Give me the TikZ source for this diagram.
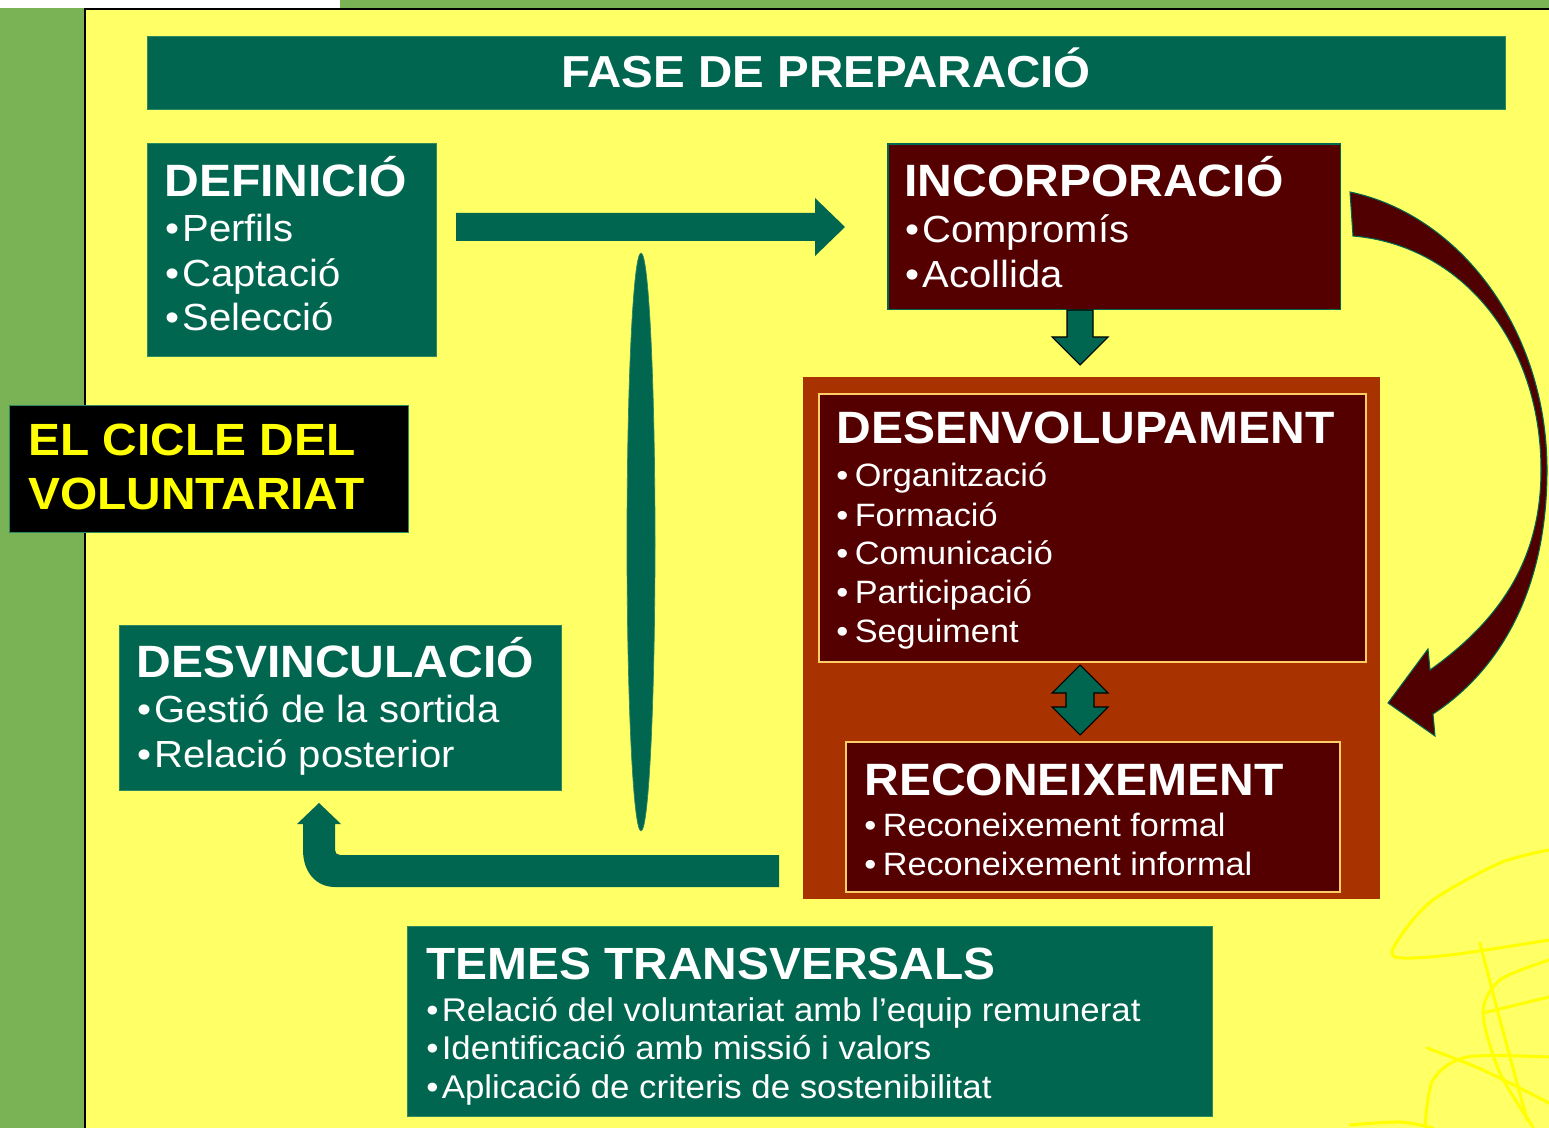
\documentclass[tikz,border=0pt]{standalone}
\usepackage{fontspec}
\setmainfont{Liberation Sans}[FakeStretch=1.06]
\usetikzlibrary{positioning}

\definecolor{vgreen}{RGB}{0,102,80}
\definecolor{vgreenedge}{RGB}{45,135,95}
\definecolor{vred}{RGB}{85,0,0}
\definecolor{vrust}{RGB}{168,51,0}
\definecolor{vorange}{RGB}{255,204,102}
\definecolor{vyellow}{RGB}{255,255,102}
\definecolor{vlemon}{RGB}{255,255,0}
\definecolor{vgrass}{RGB}{122,178,86}
\definecolor{varrow}{RGB}{80,0,0}

\tikzset{
  panel/.style={anchor=north west, inner sep=0, outer sep=0},
  greenbox/.style={panel, fill=vgreen, draw=vgreenedge, line width=0.5pt},
  redbox/.style={panel, fill=vred, draw=vorange, line width=0.9pt},
  boxtitle/.style={anchor=base west, inner sep=0, text=white, font=\bfseries\fontsize{#1}{#1}\selectfont},
  bulletline/.style={anchor=base west, inner sep=0, text=white, font=\fontsize{#1}{#1}\selectfont},
  blockarrow/.style={fill=vgreen, draw=black, line width=0.6pt},
  scribble/.style={draw=vlemon, line width=0.06cm, line cap=round},
}

\begin{document}
\begin{tikzpicture}[x=0.02cm, y=-0.02cm]
    \useasboundingbox (0,0) rectangle (1549,1128);
    % background
    \fill[vgrass] (0,0) rectangle (1549,1128);
    \fill[white] (0,0) rectangle (340,8);
    \fill[vyellow] (85,9) rectangle (1549,1128);
    \draw[black, line width=1.2pt] (85,1128) -- (85,9) -- (1549,9);

    % scribbles in the corner
    \draw[scribble] plot[smooth] coordinates {(1549,850) (1500,863) (1433,900) (1400,937) (1395,957) (1450,955) (1549,940)};
    \draw[scribble] plot[smooth] coordinates {(1480,943) (1500,1020) (1527,1120)};
    \draw[scribble] plot[smooth] coordinates {(1549,960) (1500,980) (1483,1013) (1500,1073) (1533,1127)};
    \draw[scribble] plot[smooth] coordinates {(1427,1048) (1483,1070) (1549,1103)};
    \draw[scribble] plot[smooth] coordinates {(1549,1057) (1467,1057) (1433,1080) (1425,1128)};
    \draw[scribble] plot[smooth] coordinates {(1350,1125) (1400,1122) (1433,1128)};
    \draw[scribble] plot[smooth] coordinates {(1483,1013) (1549,997)};

    % banner
    \node[greenbox, minimum width=27.18cm, minimum height=1.46cm] (fase) at (147,36) {};
    \node[anchor=base, inner sep=0, text=white, font=\bfseries\fontsize{25.5}{25.5}\selectfont] (fasetext) at (826,88) {FASE DE PREPARACIÓ};

    % definicio
    \node[greenbox, minimum width=5.78cm, minimum height=4.26cm] (def) at (147,143) {};
    \node[boxtitle=25.8] (deftitle) at (164,197) {DEFINICIÓ};
    \node[bulletline=21.5] (def1) at (165,242) {•\hspace{0.08em}Perfils};
    \node[bulletline=21.5] (def2) at (165,287) {•\hspace{0.08em}Captació};
    \node[bulletline=21.5] (def3) at (165,331) {•\hspace{0.08em}Selecció};

    % incorporacio
    \node[panel, fill=vred, draw=vgreen, line width=0.6pt, minimum width=9.06cm, minimum height=3.32cm] (inc) at (888,144) {};
    \node[boxtitle=25.8] (inctitle) at (904,197) {INCORPORACIÓ};
    \node[bulletline=21.5] (inc1) at (905,243) {•\hspace{0.08em}Compromís};
    \node[bulletline=21.5] (inc2) at (905,288) {•\hspace{0.08em}Acollida};

    % desenvolupament and reconeixement
    \node[panel, fill=vrust, minimum width=11.54cm, minimum height=10.44cm] (devpanel) at (803,377) {};
    \node[redbox, minimum width=10.94cm, minimum height=5.36cm] (dev) at (819,394) {};
    \node[boxtitle=25.8] (devtitle) at (836,444) {DESENVOLUPAMENT};
    \node[bulletline=18.4] (dev1) at (836,487) {•\hspace{0.2em}Organització};
    \node[bulletline=18.4] (dev2) at (836,526) {•\hspace{0.2em}Formació};
    \node[bulletline=18.4] (dev3) at (836,564) {•\hspace{0.2em}Comunicació};
    \node[bulletline=18.4] (dev4) at (836,603) {•\hspace{0.2em}Participació};
    \node[bulletline=18.4] (dev5) at (836,642) {•\hspace{0.2em}Seguiment};
    \node[redbox, minimum width=9.88cm, minimum height=3.0cm] (rec) at (846,742) {};
    \node[boxtitle=25.8] (rectitle) at (864,795) {RECONEIXEMENT};
    \node[bulletline=18.4] (rec1) at (864,836) {•\hspace{0.2em}Reconeixement formal};
    \node[bulletline=18.4] (rec2) at (864,875) {•\hspace{0.2em}Reconeixement informal};

    % title of the cycle
    \node[panel, fill=black, draw=vgreenedge, line width=0.4pt, minimum width=7.98cm, minimum height=2.54cm] (cicle) at (9,405) {};
    \node[anchor=base west, inner sep=0, text=vlemon, font=\bfseries\fontsize{25.7}{25.7}\selectfont] (cicle1) at (28,456) {EL CICLE DEL};
    \node[anchor=base west, inner sep=0, text=vlemon, font=\bfseries\fontsize{25.7}{25.7}\selectfont] (cicle2) at (28,510) {VOLUNTARIAT};

    % desvinculacio
    \node[greenbox, minimum width=8.86cm, minimum height=3.3cm] (desv) at (119,625) {};
    \node[boxtitle=25.8] (desvtitle) at (136,677) {DESVINCULACIÓ};
    \node[bulletline=21.5] (desv1) at (137,722) {•\hspace{0.08em}Gestió de la sortida};
    \node[bulletline=21.5] (desv2) at (137,767) {•\hspace{0.08em}Relació posterior};

    % temes transversals
    \node[greenbox, minimum width=16.12cm, minimum height=3.8cm] (temes) at (407,926) {};
    \node[boxtitle=25.7] (temestitle) at (426,979) {TEMES TRANSVERSALS};
    \node[bulletline=18.7] (temes1) at (426,1021) {•\hspace{0.1em}Relació del voluntariat amb l’equip remunerat};
    \node[bulletline=18.7] (temes2) at (426,1059) {•\hspace{0.1em}Identificació amb missió i valors};
    \node[bulletline=18.7] (temes3) at (426,1098) {•\hspace{0.1em}Aplicació de criteris de sostenibilitat};

    % arrows
    \fill[vgreen] (456,213) -- (815,213) -- (815,198) -- (845,227) -- (815,256) -- (815,241) -- (456,241) -- cycle;
    \filldraw[blockarrow] (1067,310) -- (1093,310) -- (1093,337) -- (1108,337) -- (1080,365) -- (1052,337) -- (1067,337) -- cycle;
    \filldraw[blockarrow] (1080,665) -- (1108,693) -- (1094,693) -- (1094,707) -- (1108,707) -- (1080,735)
        -- (1052,707) -- (1066,707) -- (1066,693) -- (1052,693) -- cycle;
    \fill[vgreen] (779,855) -- (779,887) -- (335,887) .. controls (316,887) and (303,872) .. (303,850)
        -- (303,824) -- (297,824) -- (319,803) -- (341,824) -- (335,824) -- (335,850)
        .. controls (335,853) and (337,855) .. (340,855) -- cycle;
    \filldraw[fill=vgreen, draw=vgreenedge, line width=0.4pt] (641,542) ellipse [x radius=0.28cm, y radius=5.78cm];

    % curved arrow on the right
    \filldraw[fill=varrow, draw=vgreen, line width=0.6pt]
        (1350,192) .. controls (1460,215) and (1547,330) .. (1547,470)
        .. controls (1547,590) and (1500,670) .. (1433,714)
        -- (1435,736) -- (1388,703) -- (1428,649) -- (1430,670)
        .. controls (1500,620) and (1541,560) .. (1541,470)
        .. controls (1541,340) and (1460,245) .. (1353,236)
        -- cycle;
\end{tikzpicture}
\end{document}
